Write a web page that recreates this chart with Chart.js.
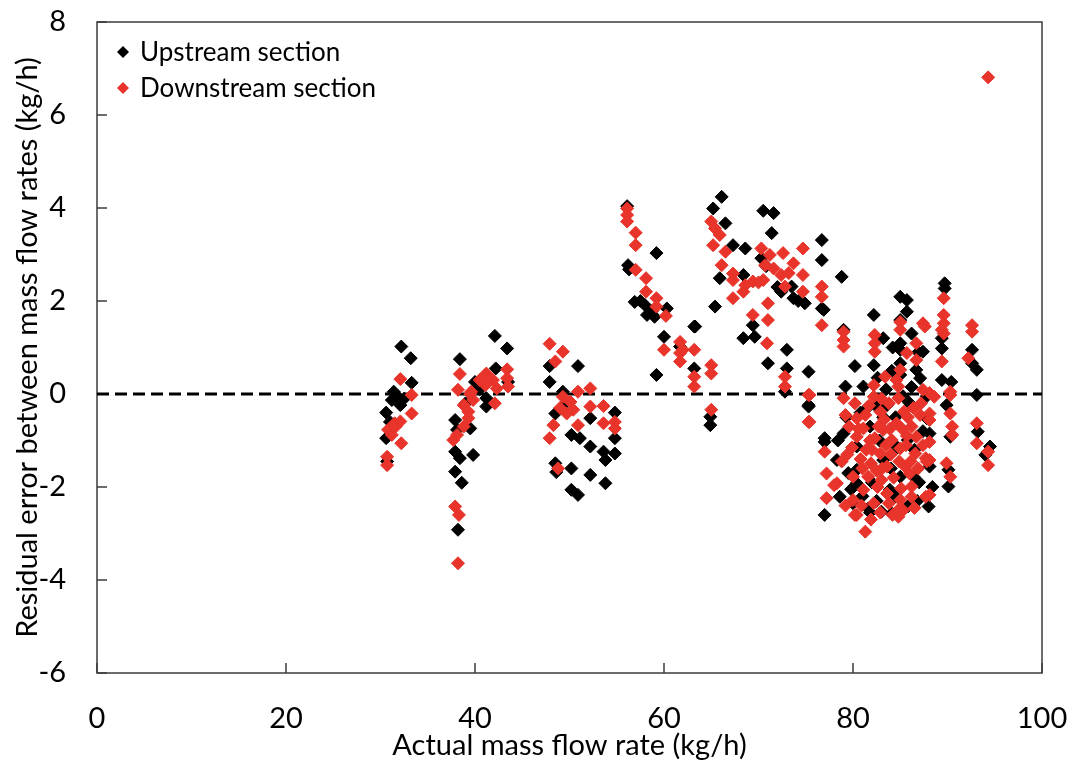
<!DOCTYPE html>
<html>
<head>
<meta charset="utf-8">
<script src="https://cdn.jsdelivr.net/npm/chart.js@4.4.0/dist/chart.umd.min.js"></script>
<style>
  html, body { margin: 0; padding: 0; background: #fff; }
  #wrap { width: 1074px; height: 766px; position: relative; }
</style>
</head>
<body>
<div id="wrap"><canvas id="residualChart"></canvas></div>
<script>
// Series labels
var seriesLabels = ['Upstream section', 'Downstream section'];

// Axis ticks
var xTicks = [0, 20, 40, 60, 80, 100];
var yTicks = [-6, -4, -2, 0, 2, 4, 6, 8];

// Zero reference line (x range)
var zeroLineX = [0, 100];

// Upstream section [actual flow, residual]
var upstream = [
  [32.2,1.02],[33.2,0.77],[33.3,0.24],[31.4,0.05],[31.2,-0.13],[32.1,-0.24],[30.6,-0.40],[31.0,-0.60],
  [30.6,-0.95],[30.7,-1.45],[31.8,-0.05],[32.5,-0.10],
  [38.4,0.75],[40.0,0.26],[42.1,1.25],[43.4,0.98],[42.2,0.55],[43.5,0.26],[41.2,-0.09],[41.2,-0.27],
  [37.9,-0.56],[39.5,-0.74],[38.1,-0.77],[37.9,-1.24],[39.8,-1.31],[38.4,-1.38],[37.9,-1.67],[38.6,-1.91],
  [38.2,-2.92],[40.5,0.10],[39.0,-0.20],
  [47.9,0.60],[50.9,0.60],[47.9,0.26],[49.3,0.05],[48.5,-0.42],[52.2,-0.52],[54.8,-0.40],[50.2,-0.88],
  [51.1,-0.95],[52.2,-1.13],[54.8,-0.95],[53.6,-1.24],[54.8,-1.28],[53.8,-1.42],[48.5,-1.49],[50.2,-1.60],
  [52.2,-1.74],[53.8,-1.92],[50.2,-2.06],[50.9,-2.17],[48.6,-1.68],[49.6,-0.20],
  [56.1,4.04],[59.2,3.03],[56.2,2.77],[56.3,2.68],[56.9,1.98],[58.0,1.91],[58.2,1.70],[59.0,1.66],
  [60.3,1.84],[63.2,1.45],[60.0,1.23],[61.7,1.02],[63.2,0.55],[59.2,0.41],[57.5,2.00],[58.7,1.78],
  [66.1,4.24],[65.2,3.99],[66.5,3.67],[70.5,3.94],[71.6,3.89],[71.4,3.46],[67.3,3.20],[68.6,3.13],
  [65.9,2.49],[68.4,2.56],[70.3,2.92],[72.4,2.20],[73.5,2.31],[73.7,2.06],[74.9,1.95],[76.7,3.31],
  [76.7,2.88],[76.7,1.84],[65.4,1.88],[63.3,1.45],[69.4,1.48],[68.4,1.20],[69.6,1.23],[73.0,0.95],
  [71.0,0.66],[73.0,0.55],[75.3,0.48],[72.8,0.05],[75.3,-0.27],[64.9,-0.49],[64.9,-0.67],[77.0,-0.95],
  [70.8,2.75],[74.2,2.00],[72.0,2.30],
  [78.8,2.52],[76.9,1.81],[82.2,1.70],[85.0,2.09],[85.7,2.02],[85.7,1.77],[85.0,1.59],[89.7,2.38],
  [89.7,2.27],[79.0,1.38],[83.2,1.20],[85.0,1.09],[85.0,0.95],[89.4,1.20],[89.4,0.98],[87.4,0.91],
  [82.2,0.62],[92.6,0.95],[92.6,0.66],[93.1,0.52],[85.0,0.66],[86.7,0.52],[79.2,0.16],[81.1,0.16],
  [85.0,0.41],[87.1,0.34],[89.4,0.30],[90.4,0.26],[93.1,-0.02],[75.3,-0.24],[89.9,-0.24],[93.2,-0.81],
  [94.5,-1.13],[94.0,-1.31],[77.0,-1.03],[79.0,-0.85],[90.1,-1.63],[90.1,-1.99],[88.0,-2.42],[77.0,-2.60],
  [81.6,-2.46],[83.0,-2.53],[84.1,-2.57],[85.8,-2.42],[78.3,-1.42],[80.4,-1.63],[80.4,-1.92],[78.6,-2.21],
  [80.0,-2.35],[90.3,-0.92],[88.1,-0.85],[88.1,-1.56],[81.8,-0.70],[83.6,-0.24],[87.8,-0.52],[85.8,-0.99],
  [80.4,-1.13],[83.9,-2.06],[83.2,-1.42],[86.4,-1.78],[85.0,-1.78],
  [81.5,-0.30],[82.8,-1.00],[84.5,-0.50],[86.0,-0.20],[84.0,-1.60],[82.0,-1.90],[86.5,-1.20],[83.5,0.10],
  [80.8,-0.40],[87.0,-1.90],[81.0,-2.20],[84.5,-2.20],[86.8,-2.30],[79.5,-1.70],[82.5,-2.30],[85.3,-0.05],
  [87.8,-0.05],[80.2,0.60],[84.2,1.00],[82.6,0.35],[86.2,1.30],
  [79.3,-0.50],[81.8,-2.55],[83.2,-0.50],[86.2,0.15],[87.4,-0.80],[84.7,-1.15],[82.4,-0.25],[88.4,-2.00],
  [79.8,-2.05],[86.9,0.90],[84.1,0.50],[78.4,-1.00]
];

// Downstream section [actual flow, residual]
var downstream = [
  [32.1,0.32],[33.3,-0.02],[33.3,-0.42],[31.5,-0.63],[32.1,-0.59],[30.8,-0.77],[31.2,-0.88],[32.2,-1.06],
  [30.7,-1.35],[30.7,-1.53],[31.6,-0.70],
  [38.4,0.43],[38.2,0.09],[39.6,0.05],[39.8,-0.13],[38.8,-0.24],[39.3,-0.38],[39.3,-0.52],[38.8,-0.70],
  [38.1,-0.88],[37.7,-0.99],[41.2,0.44],[41.9,0.30],[43.4,0.53],[43.4,0.34],[41.1,0.19],[42.3,0.12],
  [43.5,0.16],[42.1,-0.20],[37.9,-2.42],[38.3,-2.60],[38.2,-3.64],[40.5,0.30],[39.5,0.00],
  [47.9,1.08],[49.3,0.91],[48.5,0.70],[49.3,-0.06],[50.9,0.05],[52.2,0.12],[50.1,-0.17],[49.7,-0.42],
  [50.4,-0.34],[52.2,-0.27],[53.6,-0.26],[48.3,-0.67],[50.9,-0.67],[53.6,-0.63],[54.8,-0.60],[54.8,-0.74],
  [47.9,-0.95],[48.8,-1.60],[49.0,-0.30],
  [56.1,3.99],[56.1,3.85],[56.1,3.71],[57.0,3.47],[57.0,3.20],[57.0,2.67],[58.1,2.49],[58.1,2.20],
  [59.2,2.06],[59.2,1.88],[60.2,1.68],[60.0,0.95],[61.7,1.12],[61.7,0.88],[61.7,0.70],[63.2,0.95],
  [63.2,0.37],[63.2,0.16],[62.0,0.95],
  [65.0,3.71],[65.4,3.56],[65.9,3.42],[65.2,3.20],[66.5,3.06],[66.1,2.77],[67.3,2.59],[67.3,2.45],
  [68.6,2.34],[69.4,2.42],[70.5,2.45],[68.4,2.20],[67.3,2.06],[70.3,3.13],[71.2,2.99],[72.6,3.03],
  [70.7,2.77],[71.6,2.70],[73.7,2.81],[74.7,3.13],[72.4,2.56],[74.7,2.56],[72.8,2.31],[74.7,2.20],
  [71.0,1.95],[69.4,1.70],[71.0,1.59],[70.9,1.09],[65.0,0.62],[65.0,0.44],[72.8,0.37],[72.8,0.16],
  [75.3,-0.02],[75.3,-0.60],[65.0,-0.34],[70.0,2.40],[73.2,2.60],
  [76.7,2.31],[76.7,2.09],[76.7,1.48],[79.0,1.34],[79.0,1.16],[79.0,1.02],[82.3,1.27],[82.3,1.09],
  [82.3,0.91],[87.4,1.52],[85.0,1.38],[86.7,1.09],[89.6,2.06],[89.6,1.70],[89.6,1.52],[89.4,1.38],
  [89.4,0.70],[92.6,1.48],[92.6,1.34],[92.2,0.77],[85.7,0.88],[86.7,0.73],[85.0,0.52],[83.4,0.37],
  [82.2,0.19],[75.4,-0.02],[75.4,-0.60],[79.0,-0.09],[90.3,-0.02],[90.3,-0.42],[90.5,-0.70],[90.5,-0.88],
  [93.1,-0.63],[93.1,-1.06],[94.3,-1.24],[94.3,-1.53],[89.9,-1.49],[90.3,-1.78],[87.7,-1.38],[87.7,-2.21],
  [77.0,-1.24],[77.2,-1.71],[78.3,-1.92],[77.2,-2.24],[80.2,-2.60],[81.3,-2.96],[84.8,-2.49],[86.2,-2.21],
  [89.6,1.30],[87.6,1.45],[90.3,0.05],[88.1,-1.03],[88.1,-1.42],[88.1,-2.17],[88.1,0.02],[88.1,-0.42],
  [88.1,-0.56],
  [80.2,-0.20],[82.2,-0.06],[84.8,-0.09],[88.6,-0.06],[79.2,-0.45],[80.4,-0.52],[82.9,-0.38],[85.4,-0.38],
  [87.1,-0.45],[79.6,-0.70],[81.1,-0.74],[83.2,-0.77],[84.6,-0.63],[86.2,-0.70],[80.4,-0.92],[82.3,-0.95],
  [84.1,-0.99],[86.7,-0.92],[81.4,-1.20],[82.9,-1.28],[85.0,-1.17],[86.6,-1.28],[78.8,-1.45],[81.9,-1.49],
  [83.6,-1.56],[85.5,-1.56],[87.8,-1.45],[80.0,-1.78],[81.6,-1.78],[83.0,-1.85],[86.0,-1.71],[78.0,-1.96],
  [81.1,-2.06],[83.6,-2.14],[85.1,-2.03],[86.2,-1.99],[80.0,-2.28],[82.2,-2.35],[85.0,-2.28],[80.4,-2.60],
  [84.8,-2.64],[84.8,0.16],[87.4,0.09],[85.0,1.55],[83.8,-0.20],[81.8,-1.00],[84.0,-1.30],[82.5,-1.65],
  [83.3,-0.55],[85.8,-0.50],
  [80.8,-1.40],[82.0,-1.20],[83.0,-0.10],[84.3,-1.80],[85.7,-0.90],[86.9,-1.60],[81.3,-0.45],[83.8,-2.35],
  [82.6,-2.00],[84.6,0.30],[86.4,-0.30],[79.9,-1.15],[85.3,-2.50],[87.4,-1.10],[81.0,-1.60],[83.5,-1.10],
  [85.2,-0.75],
  [80.6,-0.75],[81.7,-0.25],[82.7,-0.70],[83.9,-0.75],[84.9,-1.45],[86.1,-1.45],[80.9,-2.40],[82.9,-2.55],
  [84.2,-2.60],[86.5,-2.45],[79.4,-1.30],[79.2,-2.40],[87.2,-0.20],[85.6,-1.10],[83.1,-1.60],[81.9,-2.70],
  [94.3,6.81]
];

var seriesColors = ['#000000', '#e8342a'];
var fontFamily = 'Lato, "Open Sans", sans-serif';

function toPoints(list) {
  return list.map(function(p) { return { x: p[0], y: p[1] }; });
}

// frame, inward tick marks and the in-plot legend
var framePlugin = {
  id: 'frame',
  beforeDatasetsDraw: function(chart) {
    var ctx = chart.ctx, a = chart.chartArea;
    var xs = chart.scales.x, ys = chart.scales.y;
    ctx.save();
    ctx.strokeStyle = '#3c3c3c';
    ctx.lineWidth = 1.5;
    ctx.strokeRect(a.left, a.top, a.right - a.left, a.bottom - a.top);
    ctx.beginPath();
    xTicks.forEach(function(v) {
      var px = xs.getPixelForValue(v);
      ctx.moveTo(px, a.bottom);
      ctx.lineTo(px, a.bottom - 10);
    });
    yTicks.forEach(function(v) {
      var py = ys.getPixelForValue(v);
      ctx.moveTo(a.left, py);
      ctx.lineTo(a.left + 10, py);
    });
    ctx.stroke();
    ctx.restore();
  },
  afterDraw: function(chart) {
    var ctx = chart.ctx, a = chart.chartArea;
    ctx.save();
    ctx.font = '26px ' + fontFamily;
    ctx.textBaseline = 'middle';
    seriesLabels.forEach(function(label, i) {
      var cx = a.left + 26, cy = a.top + 30 + i * 36, r = 6;
      ctx.fillStyle = seriesColors[i];
      ctx.beginPath();
      ctx.moveTo(cx - r, cy);
      ctx.lineTo(cx, cy - r);
      ctx.lineTo(cx + r, cy);
      ctx.lineTo(cx, cy + r);
      ctx.closePath();
      ctx.fill();
      ctx.fillStyle = '#000';
      ctx.fillText(label, a.left + 43, cy + 1);
    });
    ctx.restore();
  }
};

var chart = new Chart(document.getElementById('residualChart'), {
  type: 'scatter',
  data: {
    datasets: [
      {
        label: seriesLabels[0],
        data: toPoints(upstream),
        backgroundColor: seriesColors[0],
        borderColor: seriesColors[0],
        borderWidth: 1,
        pointStyle: 'rectRot',
        pointRadius: 6.5,
        order: 1
      },
      {
        label: seriesLabels[1],
        data: toPoints(downstream),
        backgroundColor: seriesColors[1],
        borderColor: seriesColors[1],
        borderWidth: 1,
        pointStyle: 'rectRot',
        pointRadius: 6.5,
        order: 0
      },
      {
        type: 'line',
        label: 'zero',
        data: zeroLineX.map(function(x) { return { x: x, y: 0 }; }),
        borderColor: '#000',
        borderWidth: 3,
        borderDash: [12, 6],
        pointRadius: 0,
        fill: false,
        order: 2
      }
    ]
  },
  options: {
    responsive: true,
    maintainAspectRatio: false,
    animation: false,
    layout: { padding: { top: 22, right: 32, left: 0, bottom: 0 } },
    plugins: {
      legend: { display: false },
      tooltip: { enabled: false }
    },
    scales: {
      x: {
        type: 'linear',
        min: 0,
        max: 100,
        afterFit: function(s) { s.height = 93; s.paddingLeft = 0; s.paddingRight = 0; },
        afterBuildTicks: function(s) { s.ticks = xTicks.map(function(v) { return { value: v }; }); },
        grid: { display: false, drawTicks: false },
        border: { display: false },
        ticks: { color: '#000', padding: 28, font: { family: fontFamily, size: 29 } },
        title: {
          display: true,
          text: 'Actual mass flow rate (kg/h)',
          color: '#000',
          font: { family: fontFamily, size: 29 },
          padding: { top: 0, bottom: 3 }
        }
      },
      y: {
        type: 'linear',
        min: -6,
        max: 8,
        afterFit: function(s) { s.width = 97; s.paddingTop = 0; s.paddingBottom = 0; },
        afterBuildTicks: function(s) { s.ticks = yTicks.map(function(v) { return { value: v }; }); },
        grid: { display: false, drawTicks: false },
        border: { display: false },
        ticks: { color: '#000', padding: 31, font: { family: fontFamily, size: 29 } },
        title: {
          display: true,
          text: 'Residual error between mass flow rates (kg/h)',
          color: '#000',
          font: { family: fontFamily, size: 29 },
          padding: { top: 10, bottom: 0 }
        }
      }
    }
  },
  plugins: [framePlugin]
});
</script>
</body>
</html>
